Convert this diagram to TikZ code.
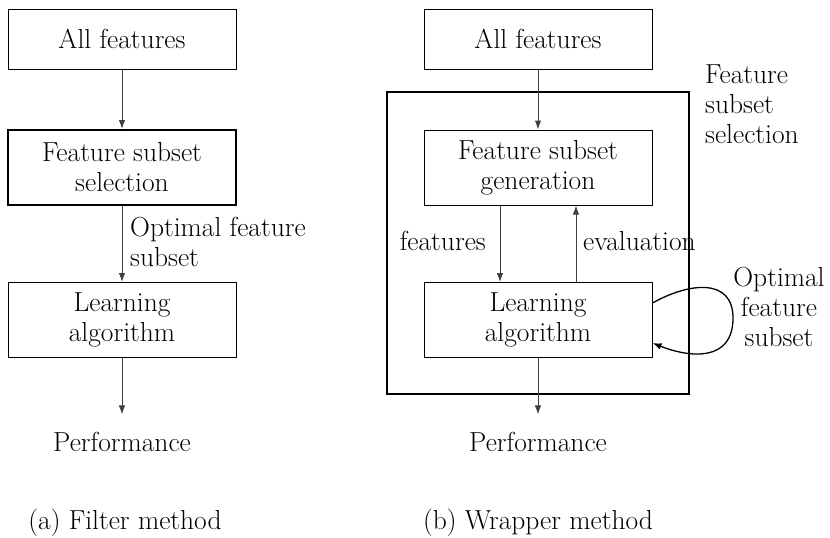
\documentclass[tikz,border=0pt]{standalone}
\usetikzlibrary{arrows.meta}
\begin{document}
\begin{tikzpicture}[x=1pt,y=-1pt,
  every node/.style={font=\fontsize{27.5}{30}\selectfont, inner sep=0pt},
  box/.style={draw=black, line width=1pt, minimum width=228pt, align=center},
  thickbox/.style={box, line width=2pt},
  conn/.style={draw=black!75, line width=1pt, -{Latex[length=9pt,width=6.5pt]}},
  loopconn/.style={draw=black, line width=1.3pt, -{Latex[length=9pt,width=6.5pt]}}]
\useasboundingbox (0,0) rectangle (830,538);

% ---- (a) filter method ----
\node[box, minimum height=60pt] (allL) at (122,39) {All features};
\node[thickbox, minimum height=75pt] (selL) at (122,167.5) {Feature subset\\selection};
\node[box, minimum height=75pt] (learnL) at (122,320) {Learning\\algorithm};
\node[anchor=base] (perfL) at (122,451) {Performance};
\node[anchor=base] (capL) at (125,529) {(a) Filter method};
\node[anchor=north west, align=left] (optL) at (130,217) {Optimal feature\\subset};

\draw[conn] (allL.south) -- (selL.north);
\draw[conn] (selL.south) -- (learnL.north);
\draw[conn, shorten >=17pt] (learnL.south) -- (perfL.north);

% ---- (b) wrapper method ----
\node[thickbox, minimum width=302pt, minimum height=302pt] (outer) at (538,243) {};
\node[box, minimum height=60pt] (allR) at (538,39) {All features};
\node[box, minimum height=75pt] (gen) at (538,167.5) {Feature subset\\generation};
\node[box, minimum height=75pt] (learnR) at (538,320) {Learning\\algorithm};
\node[anchor=base] (perfR) at (538,451) {Performance};
\node[anchor=base] (capR) at (538,529) {(b) Wrapper method};
\node[anchor=north west, align=left] (selR) at (705,65) {Feature\\subset\\selection};
\node[anchor=base east] (featLab) at (486,250) {features};
\node[anchor=base west] (evalLab) at (583,250) {evaluation};
\node[anchor=north, align=center] (optR) at (779,267) {Optimal\\feature\\subset};

\draw[conn] (allR.south) -- (gen.north);
\draw[conn] ([xshift=-38pt]gen.south) -- ([xshift=-38pt]learnR.north);
\draw[conn] ([xshift=38pt]learnR.north) -- ([xshift=38pt]gen.south);
\draw[conn, shorten >=17pt] (learnR.south) -- (perfR.north);

% feedback loop on the learning algorithm
\coordinate (loopR) at (733,318);
\draw[loopconn] ([yshift=17pt]learnR.east)
  .. controls (690,282) and (733,278) .. (loopR)
  .. controls (733,362) and (690,358) .. ([yshift=-23pt]learnR.east);
\end{tikzpicture}
\end{document}
